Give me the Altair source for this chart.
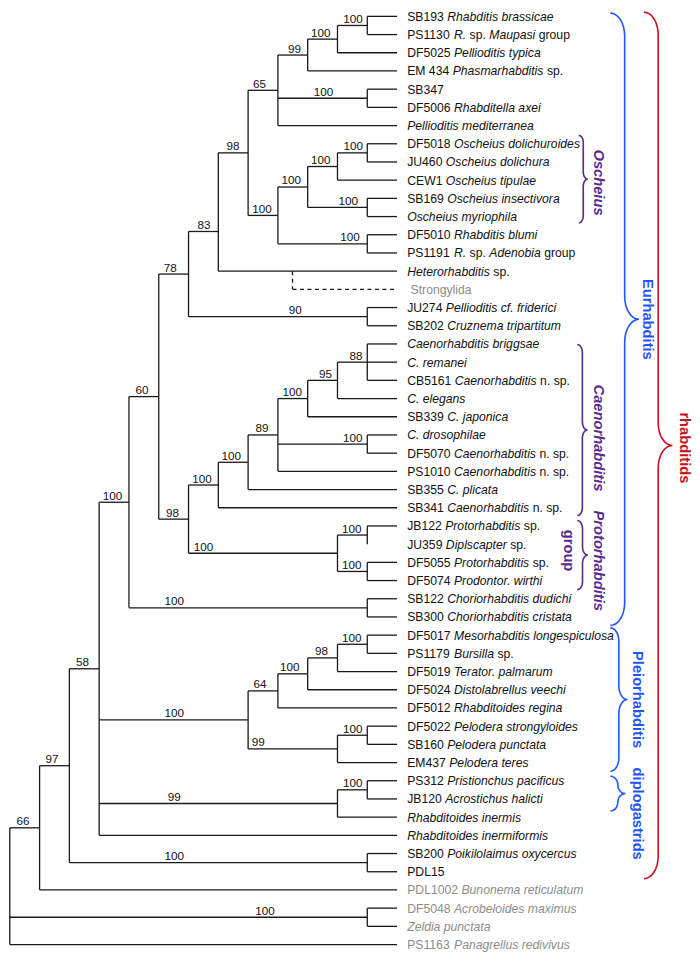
import altair as alt
import pandas as pd
import numpy as np

# ---------------- data ----------------
leaf_labels = [
    "SB193 *Rhabditis brassicae*",
    "PS1130 *R.* sp. *Maupasi* group",
    "DF5025 *Pellioditis typica*",
    "EM 434 *Phasmarhabditis* sp.",
    "SB347",
    "DF5006 *Rhabditella axei*",
    "*Pellioditis mediterranea*",
    "DF5018 *Oscheius dolichuroides*",
    "JU460 *Oscheius dolichura*",
    "CEW1 *Oscheius tipulae*",
    "SB169 *Oscheius insectivora*",
    "*Oscheius myriophila*",
    "DF5010 *Rhabditis blumi*",
    "PS1191 *R.* sp. *Adenobia* group",
    "*Heterorhabditis* sp.",
    " Strongylida",
    "JU274 *Pellioditis cf. friderici*",
    "SB202 *Cruznema tripartitum*",
    "*Caenorhabditis briggsae*",
    "*C. remanei*",
    "CB5161 *Caenorhabditis* n. sp.",
    "*C. elegans*",
    "SB339 *C. japonica*",
    "*C. drosophilae*",
    "DF5070 *Caenorhabditis* n. sp.",
    "PS1010 *Caenorhabditis* n. sp.",
    "SB355 *C. plicata*",
    "SB341 *Caenorhabditis* n. sp.",
    "JB122 *Protorhabditis* sp.",
    "JU359 *Diplscapter* sp.",
    "DF5055 *Protorhabditis* sp.",
    "DF5074 *Prodontor. wirthi*",
    "SB122 *Choriorhabditis dudichi*",
    "SB300 *Choriorhabditis cristata*",
    "DF5017 *Mesorhabditis longespiculosa*",
    "PS1179 *Bursilla* sp.",
    "DF5019 *Terator. palmarum*",
    "DF5024 *Distolabrellus veechi*",
    "DF5012 *Rhabditoides regina*",
    "DF5022 *Pelodera strongyloides*",
    "SB160 *Pelodera punctata*",
    "EM437 *Pelodera teres*",
    "PS312 *Pristionchus pacificus*",
    "JB120 *Acrostichus halicti*",
    "*Rhabditoides inermis*",
    "*Rhabditoides inermiformis*",
    "SB200 *Poikilolaimus oxycercus*",
    "PDL15",
    "PDL1002 *Bunonema reticulatum*",
    "DF5048 *Acrobeloides maximus*",
    "*Zeldia punctata*",
    "PS1163 *Panagrellus redivivus*",
]
outgroup_leaves = [15, 48, 49, 50, 51]

# parent node of each leaf (None: Strongylida, attached with a dashed line)
leaf_parent = [12, 12, 11, 10, 13, 13, 9, 17, 17, 16, 18, 18, 19, 19, 7, None,
               20, 20, 27, 27, 27, 26, 25, 28, 28, 24, 23, 22, 30, 30, 31, 31,
               32, 32, 37, 37, 36, 35, 34, 39, 39, 38, 41, 41, 40, 3, 42, 42,
               1, 43, 43, 0]
zero_length_leaves = [29]
leaf_depth = 13

# internal nodes: depth level, parent, bootstrap support
node_level = [0, 1, 2, 3, 4, 5, 6, 7, 8, 9, 10, 11, 12, 12, 9, 10, 11, 12, 12, 12,
              12, 6, 7, 8, 9, 10, 11, 12, 12, 11, 12, 12, 12, 8, 9, 10, 11, 12,
              11, 12, 11, 12, 12, 12]
node_parent = [None, 0, 1, 2, 3, 4, 5, 6, 7, 8, 9, 10, 11, 9, 8, 14, 15, 16, 15, 14,
               6, 5, 21, 22, 23, 24, 25, 26, 24, 21, 29, 29, 4, 3, 33, 34, 35, 36,
               33, 38, 3, 40, 2, 0]
node_support = ["", "66", "97", "58", "100", "60", "78", "83", "98", "65", "99",
                "100", "100", "100", "100", "100", "100", "100", "100", "100", "90",
                "98", "100", "100", "89", "100", "95", "88", "100", "100", "100",
                "100", "100", "100", "64", "100", "98", "100", "99", "100", "99",
                "100", "100", "100"]
# where each support value sits along its branch (depth units)
support_label_level = [0, 0.44, 1.42, 2.44, 3.45, 4.44, 5.39, 6.52, 7.49, 8.38, 9.56,
                       10.44, 11.52, 10.53, 8.47, 9.45, 10.44, 11.53, 11.36, 11.42,
                       9.58, 5.46, 6.45, 7.43, 8.47, 9.48, 10.6, 11.62, 11.51, 6.5,
                       11.48, 11.48, 5.52, 5.52, 8.4, 9.4, 10.46, 11.48, 8.34, 11.51,
                       5.52, 11.51, 5.52, 8.57]
node_y_override = {7: 11.82}
strongylida_attach_level = 9.49

# clade brackets
brace_name = ["Oscheius", "Eurhabditis", "Caenorhabditis", "Protorhabditis",
              "Pleiorhabditis", "diplogastrids", "rhabditids"]
brace_top = [6.54, -0.18, 18.03, 27.7, 33.6, 41.75, -0.23]
brace_bottom = [11.35, 33.47, 27.43, 31.5, 41.48, 43.66, 47.38]
brace_x0 = [19.10, 20.16, 19.05, 19.05, 20.16, 20.16, 21.29]
brace_x1 = [19.40, 21.12, 19.39, 19.40, 20.73, 20.66, 22.24]

PURPLE = "#5b2a8c"
BLUE = "#1f57ff"
RED = "#c8101e"
brace_color = [PURPLE, BLUE, PURPLE, PURPLE, BLUE, BLUE, RED]

clade_text = ["Oscheius", "Eurhabditis", "Caenorhabditis", "Protorhabditis", "group",
              "Pleiorhabditis", "diplogastrids", "rhabditids"]
clade_x = [19.73, 21.40, 19.73, 19.73, 18.74, 21.04, 21.04, 22.62]
clade_y = [9.13, 16.65, 23.17, 29.91, 29.35, 37.54, 43.81, 23.71]
clade_italic = [True, False, True, True, False, False, False, False]
clade_color = [PURPLE, BLUE, PURPLE, PURPLE, PURPLE, BLUE, BLUE, RED]

# ---------------- layout ----------------
W, H = 684, 940
X_DOM = [-0.06, 22.9]
Y_DOM = [-0.35, 51.3]
ppl = W / (X_DOM[1] - X_DOM[0])
ppy = H / (Y_DOM[1] - Y_DOM[0])
FONT = "Liberation Sans, Arial, Helvetica, sans-serif"
LEAF_FS = 12.2
SUP_FS = 11.7
CLADE_FS = 14.7
label_start = 13.34

CW = {' ': 278, '.': 278, '-': 333}
for c in "0123456789":
    CW[c] = 556
CW.update({'A': 667, 'B': 667, 'C': 722, 'D': 722, 'E': 667, 'F': 611, 'G': 778,
           'H': 722, 'I': 278, 'J': 500, 'K': 667, 'L': 556, 'M': 833, 'N': 722,
           'O': 778, 'P': 667, 'Q': 778, 'R': 722, 'S': 667, 'T': 611, 'U': 722,
           'V': 667, 'W': 944, 'X': 667, 'Y': 667, 'Z': 611,
           'a': 556, 'b': 556, 'c': 500, 'd': 556, 'e': 556, 'f': 278, 'g': 556,
           'h': 556, 'i': 222, 'j': 222, 'k': 500, 'l': 222, 'm': 833, 'n': 556,
           'o': 556, 'p': 556, 'q': 556, 'r': 333, 's': 500, 't': 278, 'u': 556,
           'v': 500, 'w': 722, 'x': 500, 'y': 500, 'z': 500})


def text_w(s, size):
    return sum(CW.get(ch, 556) for ch in s) / 1000.0 * size


# tree geometry
n_nodes = len(node_level)
children = {i: [] for i in range(n_nodes)}
for j, p in enumerate(node_parent):
    if p is not None:
        children[p].append(("n", j))
for k, p in enumerate(leaf_parent):
    if p is not None:
        children[p].append(("l", k))

node_y = {}


def get_y(kind, idx):
    if kind == "l":
        return float(idx)
    if idx in node_y:
        return node_y[idx]
    ys = [get_y(kd, ix) for kd, ix in children[idx]]
    val = node_y_override.get(idx, (min(ys) + max(ys)) / 2.0)
    node_y[idx] = val
    return val


def get_level(kind, idx):
    if kind == "l":
        return node_level[leaf_parent[idx]] if idx in zero_length_leaves else leaf_depth
    return node_level[idx]


for i in range(n_nodes):
    get_y("n", i)

rules = []
for p in range(n_nodes):
    ys = []
    for kd, ix in children[p]:
        cy = get_y(kd, ix)
        ys.append(cy)
        rules.append(dict(x=node_level[p], x2=get_level(kd, ix), y=cy, y2=cy))
    rules.append(dict(x=node_level[p], x2=node_level[p], y=min(ys), y2=max(ys)))
rules_df = pd.DataFrame(rules)

dash_df = pd.DataFrame([
    dict(x=strongylida_attach_level, x2=strongylida_attach_level, y=14.0, y2=15.0),
    dict(x=strongylida_attach_level, x2=leaf_depth, y=15.0, y2=15.0),
])

# leaf label segments
segs = []
for k, lab in enumerate(leaf_labels):
    parts = lab.split("*")
    off = 0.0
    col = "#8c8c8c" if k in outgroup_leaves else "#111111"
    for pi, part in enumerate(parts):
        if part == "":
            continue
        lead = len(part) - len(part.lstrip(" "))
        txt = part.strip(" ")
        if txt:
            segs.append(dict(x=label_start + (off + text_w(" " * lead, LEAF_FS)) / ppl,
                             y=float(k), text=txt, italic=(pi % 2 == 1), color=col))
        off += text_w(part, LEAF_FS)
segs_df = pd.DataFrame(segs)
seg_norm = segs_df[~segs_df["italic"]]
seg_ital = segs_df[segs_df["italic"]]

sup_df = pd.DataFrame([dict(x=support_label_level[i], y=node_y[i], text=node_support[i])
                       for i in range(n_nodes) if node_support[i]])

# braces
bpts = []
t = np.linspace(0, np.pi / 2, 9)
for b in range(len(brace_name)):
    x0, x1 = brace_x0[b], brace_x1[b]
    y0, y1 = brace_top[b], brace_bottom[b]
    xm, ym = (x0 + x1) / 2, (y0 + y1) / 2
    ry = min(0.8 * (x1 - x0) * ppl / ppy, (y1 - y0) / 4)
    pts = []
    pts += [(x0 + (xm - x0) * np.sin(a), y0 + ry - ry * np.cos(a)) for a in t]
    pts += [(x1 - (x1 - xm) * np.cos(a), ym - ry + ry * np.sin(a)) for a in t]
    pts += [(x1 - (x1 - xm) * np.sin(a), ym + ry - ry * np.cos(a)) for a in t]
    pts += [(x0 + (xm - x0) * np.cos(a), y1 - ry + ry * np.sin(a)) for a in t]
    for o, (px, py) in enumerate(pts):
        bpts.append(dict(brace=brace_name[b], ord=o, x=px, y=py, color=brace_color[b]))
brace_df = pd.DataFrame(bpts)

clade_df = pd.DataFrame(dict(text=clade_text, x=clade_x, y=clade_y,
                             italic=clade_italic, color=clade_color))

# ---------------- chart ----------------
xs = alt.Scale(domain=X_DOM, nice=False, zero=False)
ys_ = alt.Scale(domain=Y_DOM, nice=False, zero=False, reverse=True)
X = alt.X("x:Q", scale=xs, axis=None)
Y = alt.Y("y:Q", scale=ys_, axis=None)

tree = alt.Chart(rules_df).mark_rule(color="#1a1a1a", strokeWidth=1.3).encode(
    x=X, x2="x2:Q", y=Y, y2="y2:Q")
dashed = alt.Chart(dash_df).mark_rule(color="#1a1a1a", strokeWidth=1.3,
                                      strokeDash=[4, 3.5]).encode(
    x=X, x2="x2:Q", y=Y, y2="y2:Q")

lab_n = alt.Chart(seg_norm).mark_text(align="left", baseline="middle", font=FONT,
                                      fontSize=LEAF_FS, dy=0.5).encode(
    x=X, y=Y, text="text:N", color=alt.Color("color:N", scale=None))
lab_i = alt.Chart(seg_ital).mark_text(align="left", baseline="middle", font=FONT,
                                      fontSize=LEAF_FS, fontStyle="italic", dy=0.5).encode(
    x=X, y=Y, text="text:N", color=alt.Color("color:N", scale=None))

sup = alt.Chart(sup_df).mark_text(align="center", baseline="alphabetic", font=FONT,
                                  fontSize=SUP_FS, dy=-2.5, color="#111111").encode(
    x=X, y=Y, text="text:N")

braces = alt.Chart(brace_df).mark_line(strokeWidth=1.6).encode(
    x=X, y=Y, detail="brace:N", order="ord:Q", color=alt.Color("color:N", scale=None))

clade_i = alt.Chart(clade_df[clade_df["italic"]]).mark_text(
    angle=90, align="center", baseline="middle", font=FONT, fontSize=CLADE_FS,
    fontWeight="bold", fontStyle="italic").encode(
    x=X, y=Y, text="text:N", color=alt.Color("color:N", scale=None))
clade_n = alt.Chart(clade_df[~clade_df["italic"]]).mark_text(
    angle=90, align="center", baseline="middle", font=FONT, fontSize=CLADE_FS,
    fontWeight="bold").encode(
    x=X, y=Y, text="text:N", color=alt.Color("color:N", scale=None))

chart = alt.layer(tree, dashed, braces, lab_n, lab_i, sup, clade_i, clade_n).properties(
    width=W, height=H, padding=0
).configure_view(stroke=None)

chart.save("out.html", embed_options={"renderer": "svg", "actions": False})
